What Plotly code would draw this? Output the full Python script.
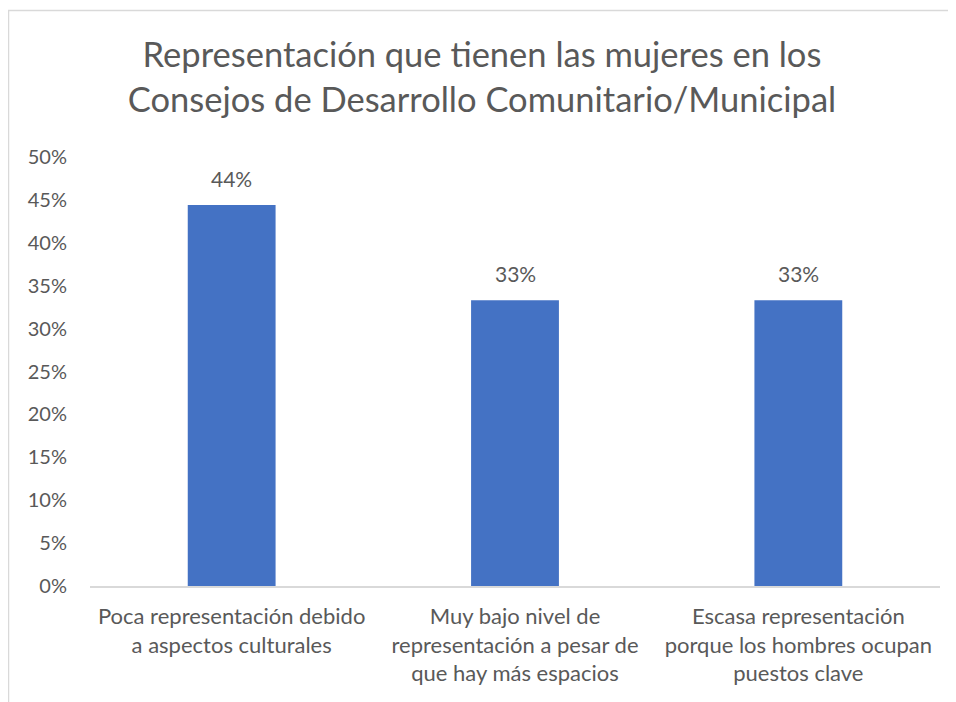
import plotly.graph_objects as go

categories = [
    "Poca representación debido<br>a aspectos culturales",
    "Muy bajo nivel de<br>representación a pesar de<br>que hay más espacios",
    "Escasa representación<br>porque los hombres ocupan<br>puestos clave",
]
values = [0.444, 0.333, 0.333]
labels = ["44%", "33%", "33%"]
y_ticks = [0, 0.05, 0.10, 0.15, 0.20, 0.25, 0.30, 0.35, 0.40, 0.45, 0.50]
y_tick_text = ["0%", "5%", "10%", "15%", "20%", "25%", "30%", "35%", "40%", "45%", "50%"]

FONT = "Lato"
GREY = "#595959"

W, H = 948, 694
L, R, T, B = 82, 16, 149, 116
PW, PH = W - L - R, H - T - B

fig = go.Figure(go.Bar(
    x=categories, y=values,
    marker=dict(color="#4472C4", line=dict(width=0)),
    width=0.31,
))

for c, v, t in zip(categories, values, labels):
    fig.add_annotation(
        x=c, y=v, text=t, showarrow=False, yanchor="bottom", yshift=12,
        font=dict(family=FONT, size=21, color=GREY),
    )

fig.update_layout(
    width=W, height=H,
    margin=dict(l=L, r=R, t=T, b=B),
    paper_bgcolor="white", plot_bgcolor="white",
    title=dict(
        text="Representación que tienen las mujeres en los<br>Consejos de Desarrollo Comunitario/Municipal",
        x=0.5, xanchor="center", y=0.915, yanchor="middle",
        font=dict(family=FONT, size=34.5, color=GREY),
    ),
    showlegend=False,
    xaxis=dict(
        showline=True, linecolor="#D9D9D9", linewidth=1.5,
        showgrid=False, ticks="", ticklabelstandoff=10,
        tickfont=dict(family=FONT, size=22, color=GREY),
    ),
    yaxis=dict(
        range=[0, 0.5], tickvals=y_ticks, ticktext=y_tick_text,
        showgrid=False, showline=False, zeroline=False, ticks="",
        ticklabelstandoff=22,
        tickfont=dict(family=FONT, size=20, color=GREY),
    ),
    shapes=[dict(
        type="rect", xref="paper", yref="paper",
        x0=(0.5 - L) / PW, x1=1.2, y0=-0.6, y1=(H - B - 2.5) / PH,
        line=dict(color="#D9D9D9", width=1.5), fillcolor="rgba(0,0,0,0)", layer="below",
    )],
)

fig.write_html("out.html")
